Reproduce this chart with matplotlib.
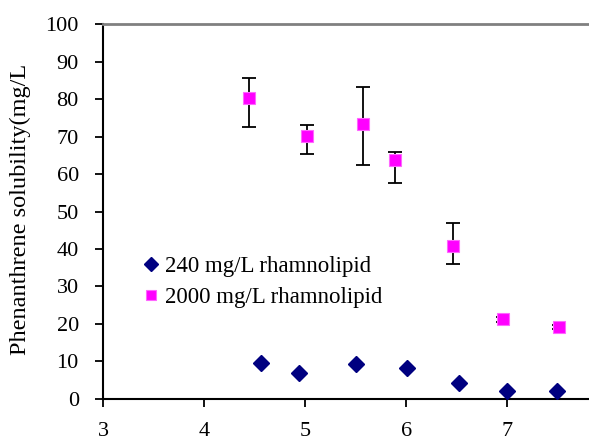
import matplotlib
matplotlib.use("Agg")
import matplotlib.pyplot as plt

# pH vs phenanthrene solubility
ph_240 = [4.56, 4.94, 5.50, 6.01, 6.52, 7.00, 7.49]
sol_240 = [9.6, 6.9, 9.2, 8.1, 4.3, 2.1, 2.1]

ph_2000 = [4.44, 5.02, 5.57, 5.89, 6.46, 6.96, 7.51]
sol_2000 = [80.2, 70.2, 73.5, 63.8, 40.8, 21.2, 19.2]
err_low = [7.6, 4.8, 11.1, 6.1, 4.8, 0.6, 0.6]
err_high = [5.6, 2.8, 9.8, 2.0, 6.2, 0.6, 0.6]

plt.rcParams["font.family"] = ["Liberation Serif", "DejaVu Serif"]

fig = plt.figure(figsize=(5.89, 4.43), dpi=100)
ax = fig.add_axes([0.175, 0.100, 0.825, 0.845])

ax.errorbar(ph_2000, sol_2000, yerr=[err_low, err_high], fmt="none",
            ecolor="black", elinewidth=1.3, capsize=5.3, capthick=1.3, zorder=2)
ax.plot(ph_240, sol_240, linestyle="none", marker="D", markersize=8,
        color="#000080", label="240 mg/L rhamnolipid", zorder=3)
ax.plot(ph_2000, sol_2000, linestyle="none", marker="s", markersize=9,
        markerfacecolor="#FF00FF", markeredgecolor="#FF66FF", markeredgewidth=0.8,
        label="2000 mg/L rhamnolipid", zorder=3)

ax.set_xlim(3, 7.81)
ax.set_ylim(0, 100)
ax.set_xticks([3, 4, 5, 6, 7])
ax.set_yticks(range(0, 101, 10))

ax.spines["right"].set_visible(False)
ax.spines["top"].set_color("#808080")
ax.spines["top"].set_linewidth(2)
ax.spines["left"].set_linewidth(1.5)
ax.spines["bottom"].set_linewidth(1.5)
ax.tick_params(direction="out", length=5.5, width=1.3, labelsize=16)
ax.tick_params(axis="x", pad=11)
ax.tick_params(axis="y", pad=12)

fig.text(0.034, 1 - 355 / 443, "Phenanthrene solubility(mg/L", rotation=90,
         va="bottom", ha="center", fontsize=17.5)

ax.legend(loc="upper left", bbox_to_anchor=(0.08, 0.38), frameon=False,
          fontsize=16.5, handletextpad=0.2, labelspacing=0.42, handlelength=0.8,
          borderpad=0, borderaxespad=0, markerscale=0.85)

plt.savefig("out.png", dpi=100)
plt.close()
